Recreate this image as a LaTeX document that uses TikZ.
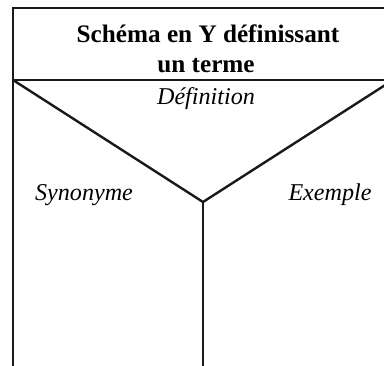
\documentclass[tikz,border=0pt]{standalone}
\usepackage{fontspec}
\setmainfont{Liberation Serif}
\begin{document}
\begin{tikzpicture}[x=1bp,y=-1bp,
  rule/.style={line width=2.4bp,draw=black!90},
  titletext/.style={anchor=base,inner sep=0pt,font=\fontsize{25.3}{29}\selectfont\bfseries},
  labeltext/.style={anchor=base,inner sep=0pt,font=\fontsize{24.2}{28}\selectfont\itshape}]
\useasboundingbox (0,0) rectangle (384,366);
\clip (0,0) rectangle (384,366);
\coordinate (tl) at (13,8);
\coordinate (tr) at (393,8);
\coordinate (ml) at (13,80);
\coordinate (mr) at (393,80);
\coordinate (c) at (203,202);
\coordinate (bl) at (13,372);
\coordinate (bc) at (203,372);
\coordinate (br) at (393,372);
\draw[rule] (bl) -- (tl) -- (tr) -- (br);
\draw[rule] (ml) -- (mr);
\draw[rule,line join=miter] (ml) -- (c) -- (mr);
\draw[rule] (c) -- (bc);
\node[titletext] (t1) at (208,42) {Schéma en Y définissant};
\node[titletext] (t2) at (206,72) {un terme};
\node[labeltext] (def) at (206,104) {Définition};
\node[labeltext] (syn) at (84,200) {Synonyme};
\node[labeltext] (ex) at (330,200) {Exemple};
\end{tikzpicture}
\end{document}
